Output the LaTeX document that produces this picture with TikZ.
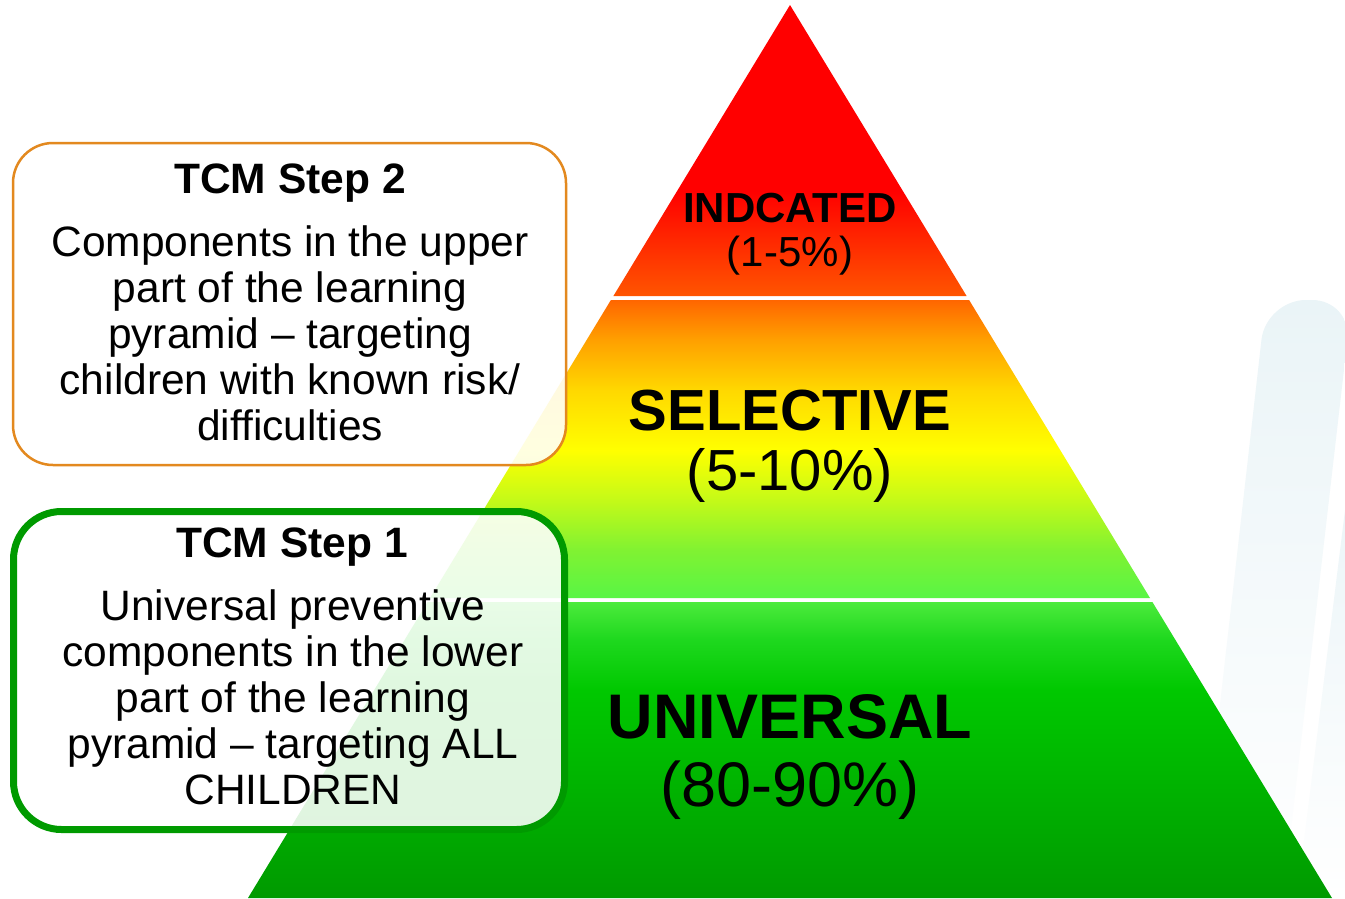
\documentclass[tikz,border=0pt]{standalone}
\usepackage{fontspec}
\setmainfont{Liberation Sans}
\usetikzlibrary{positioning}

% colours of the three levels
\definecolor{tipbot}{HTML}{FF5500}
\definecolor{midA}{HTML}{FF6600}
\definecolor{midB}{HTML}{FFA000}
\definecolor{midC}{HTML}{FFD800}
\definecolor{midD}{HTML}{FFFF00}
\definecolor{midE}{HTML}{C4FA18}
\definecolor{midF}{HTML}{80F232}
\definecolor{midG}{HTML}{58F545}
\definecolor{baseA}{HTML}{4CEB3C}
\definecolor{baseB}{HTML}{1ED81E}
\definecolor{baseC}{HTML}{00C800}
\definecolor{baseD}{HTML}{00B000}
\definecolor{baseE}{HTML}{009A00}
\definecolor{stepgreen}{HTML}{009A00}
\definecolor{steporange}{HTML}{E3891F}
\definecolor{haze}{HTML}{EAF4F7}

\pgfdeclareverticalshading{tipshade}{100bp}{color(0bp)=(tipbot); color(25bp)=(tipbot); color(43bp)=(red); color(75bp)=(red); color(100bp)=(red)}
\pgfdeclareverticalshading{midshade}{100bp}{color(0bp)=(midG); color(25bp)=(midG); color(33bp)=(midF); color(41.4bp)=(midE); color(49.8bp)=(midD); color(59.9bp)=(midC); color(68.3bp)=(midB); color(75bp)=(midA); color(100bp)=(midA)}
\pgfdeclareverticalshading{baseshade}{100bp}{color(0bp)=(baseE); color(25bp)=(baseE); color(41.6bp)=(baseD); color(60.1bp)=(baseC); color(68.6bp)=(baseB); color(75bp)=(baseA); color(100bp)=(baseA)}

\newcommand\stepfont{\fontsize{42.5}{46}\selectfont}
\tikzstyle{level} = [draw=none]
\tikzstyle{band} = [top color=haze, bottom color=white]
\tikzstyle{stepbox} = [draw, rounded corners=40pt, fill=white, fill opacity=0.88, minimum width=553pt, minimum height=322pt, inner sep=0pt]
\tikzstyle{steptext} = [font=\stepfont, align=center, anchor=north, inner sep=0pt, text=black]

\begin{document}
\begin{tikzpicture}[x=1pt,y=-1pt]
      \useasboundingbox (0,0) rectangle (1345,898);
      \fill[white] (0,0) rectangle (1345,898);
      %%%%%%%%%%%%%%%%%%%%%%%%%%%%%%%%%%%%%%%
      % pale bands at the right
      \shade[band, rounded corners=40pt] (1198,898) -- (1266,300) -- (1352,300) -- (1283,898) -- cycle;
      \shade[band, rounded corners=30pt] (1297,898) -- (1350,470) -- (1430,470) -- (1380,898) -- cycle;
      %%%%%%%%%%%%%%%%%%%%%%%%%%%%%%%%%%%%%%%
      % the pyramid
      \shade[level, shading=tipshade] (790,5) -- (966.6,296) -- (613.4,296) -- cycle;
      \shade[level, shading=midshade] (610.9,300) -- (969.1,300) -- (1150,598) -- (430,598) -- cycle;
      \shade[level, shading=baseshade] (427.6,602) -- (1152.4,602) -- (1332,898) -- (248,898) -- cycle;
      \node (tipname) at (790,222) [anchor=base, font=\fontsize{42}{46}\selectfont\bfseries] {INDCATED};
      \node (tippct) at (790,266) [anchor=base, font=\fontsize{42}{46}\selectfont] {(1-5\%)};
      \node (midname) at (790,430) [anchor=base, font=\fontsize{58}{60}\selectfont\bfseries] {SELECTIVE};
      \node (midpct) at (790,490) [anchor=base, font=\fontsize{58}{60}\selectfont] {(5-10\%)};
      \node (basename) at (790,738) [anchor=base, font=\fontsize{63}{67}\selectfont\bfseries] {UNIVERSAL};
      \node (basepct) at (790,806) [anchor=base, font=\fontsize{63}{67}\selectfont] {(80-90\%)};
      %%%%%%%%%%%%%%%%%%%%%%%%%%%%%%%%%%%%%%%
      % step 2 box
      \draw (289.5,304) node (step2) [stepbox, draw=steporange, line width=2.5pt] {};
      \node (step2title) at (290,193) [anchor=base, font=\stepfont\bfseries] {TCM Step 2};
      \node (step2text) at (290,225) [steptext] {Components in the upper\\part of the learning\\pyramid \textendash{} targeting\\children with known risk/\\difficulties};
      % step 1 box
      \draw (289,670.5) node (step1) [stepbox, draw=stepgreen, line width=7pt, minimum width=551pt, minimum height=318pt, rounded corners=48pt] {};
      \node (step1title) at (292,557) [anchor=base, font=\stepfont\bfseries] {TCM Step 1};
      \node (step1text) at (293,589) [steptext] {Universal preventive\\components in the lower\\part of the learning\\pyramid \textendash{} targeting ALL\\CHILDREN};
\end{tikzpicture}
\end{document}
